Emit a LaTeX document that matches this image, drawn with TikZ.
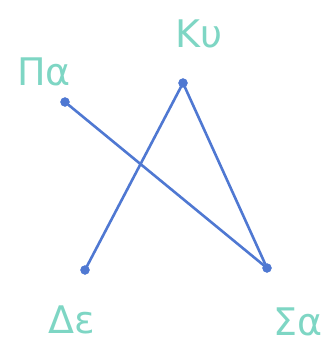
\documentclass[tikz,border=0pt]{standalone}
\usepackage{fontspec}
\setmainfont{DejaVu Sans}
\usetikzlibrary{positioning}
\definecolor{c1}{HTML}{4F78D2}
\definecolor{c2}{HTML}{7ED6C4}

\begin{document}
\begin{tikzpicture}[x=1pt,y=-1pt,
  dot/.style={circle,fill=c1,draw=c1,inner sep=0pt,minimum size=9pt},
  lbl/.style={text=c2,font=\fontsize{38}{38}\selectfont,inner sep=0pt},
  edge/.style={draw=c1,line width=2.6pt,line cap=round}]

\useasboundingbox (0,0) rectangle (328,361);

\node[dot] (pa) at (65,102) {};
\node[dot] (ky) at (183,83) {};
\node[dot] (de) at (85,270) {};
\node[dot] (sa) at (267,268) {};

\node[lbl] (lpa) at (44,72) {Πα};
\node[lbl] (lky) at (199,34) {Κυ};
\node[lbl] (lde) at (72,320) {Δε};
\node[lbl] (lsa) at (298,322) {Σα};

\draw[edge] (pa) -- (sa);
\draw[edge] (ky) -- (de);
\draw[edge] (ky) -- (sa);
\end{tikzpicture}
\end{document}
